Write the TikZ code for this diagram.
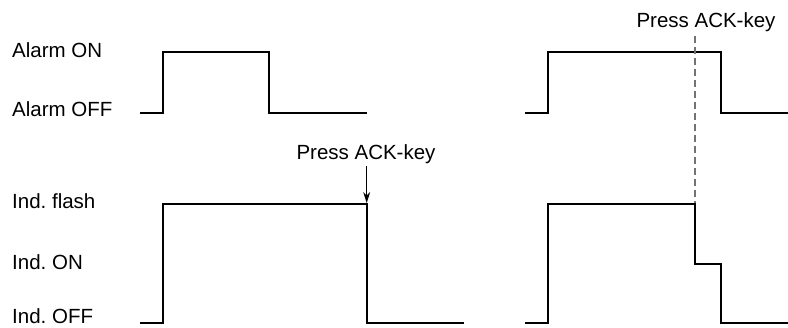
\documentclass[tikz,border=0pt]{standalone}
\usepackage{fontspec}
\setmainfont{Liberation Sans}
\usetikzlibrary{arrows.meta}
\frenchspacing
\begin{document}
\begin{tikzpicture}[x=1pt,y=-1pt,
  lbl/.style={anchor=base west,inner sep=0pt,font=\fontsize{20.5}{24}\selectfont},
  ack/.style={anchor=base,inner sep=0pt,font=\fontsize{20.5}{24}\selectfont},
  wave/.style={line width=2.2pt,line join=miter,line cap=butt},
  keyarrow/.style={line width=1pt,-{Stealth[length=11pt,width=7pt]}},
  keyline/.style={line width=1.7pt,black!55,dash pattern=on 7pt off 4pt}]
\useasboundingbox (0,0) rectangle (788,328);
% labels
\node[lbl] (aon)   at (12,57.3)  {Alarm ON};
\node[lbl] (aoff)  at (12,116.7) {Alarm OFF};
\node[lbl] (iflash) at (12,208.3) {Ind. flash};
\node[lbl] (ion)   at (12,269.3) {Ind. ON};
\node[lbl] (ioff)  at (12,323.5) {Ind. OFF};
% waveforms
\draw[wave] (140,112.7) -- (162.7,112.7) -- (162.7,52.3) -- (268.7,52.3) -- (268.7,112.7) -- (366.7,112.7);
\draw[wave] (525,112.7) -- (547.7,112.7) -- (547.7,52.3) -- (721,52.3) -- (721,112.7) -- (790,112.7);
\draw[wave] (140,323.3) -- (162.7,323.3) -- (162.7,204) -- (366.7,204) -- (366.7,323.3) -- (464.3,323.3);
\draw[wave] (525,323.3) -- (547.7,323.3) -- (547.7,204) -- (694.7,204) -- (694.7,264) -- (721,264) -- (721,323.3) -- (790,323.3);
% press ACK-key markers
\node[ack] (press1) at (366,159.5) {Press ACK-key};
\coordinate (p1top) at (366.7,166.5);
\coordinate (p1end) at (366.7,203);
\draw[keyarrow] (p1top) -- (p1end);
\node[ack] (press2) at (706,28) {Press ACK-key};
\coordinate (p2top) at (694.7,36.5);
\coordinate (p2end) at (694.7,203);
\draw[keyline] (p2top) -- (p2end);
\end{tikzpicture}
\end{document}
